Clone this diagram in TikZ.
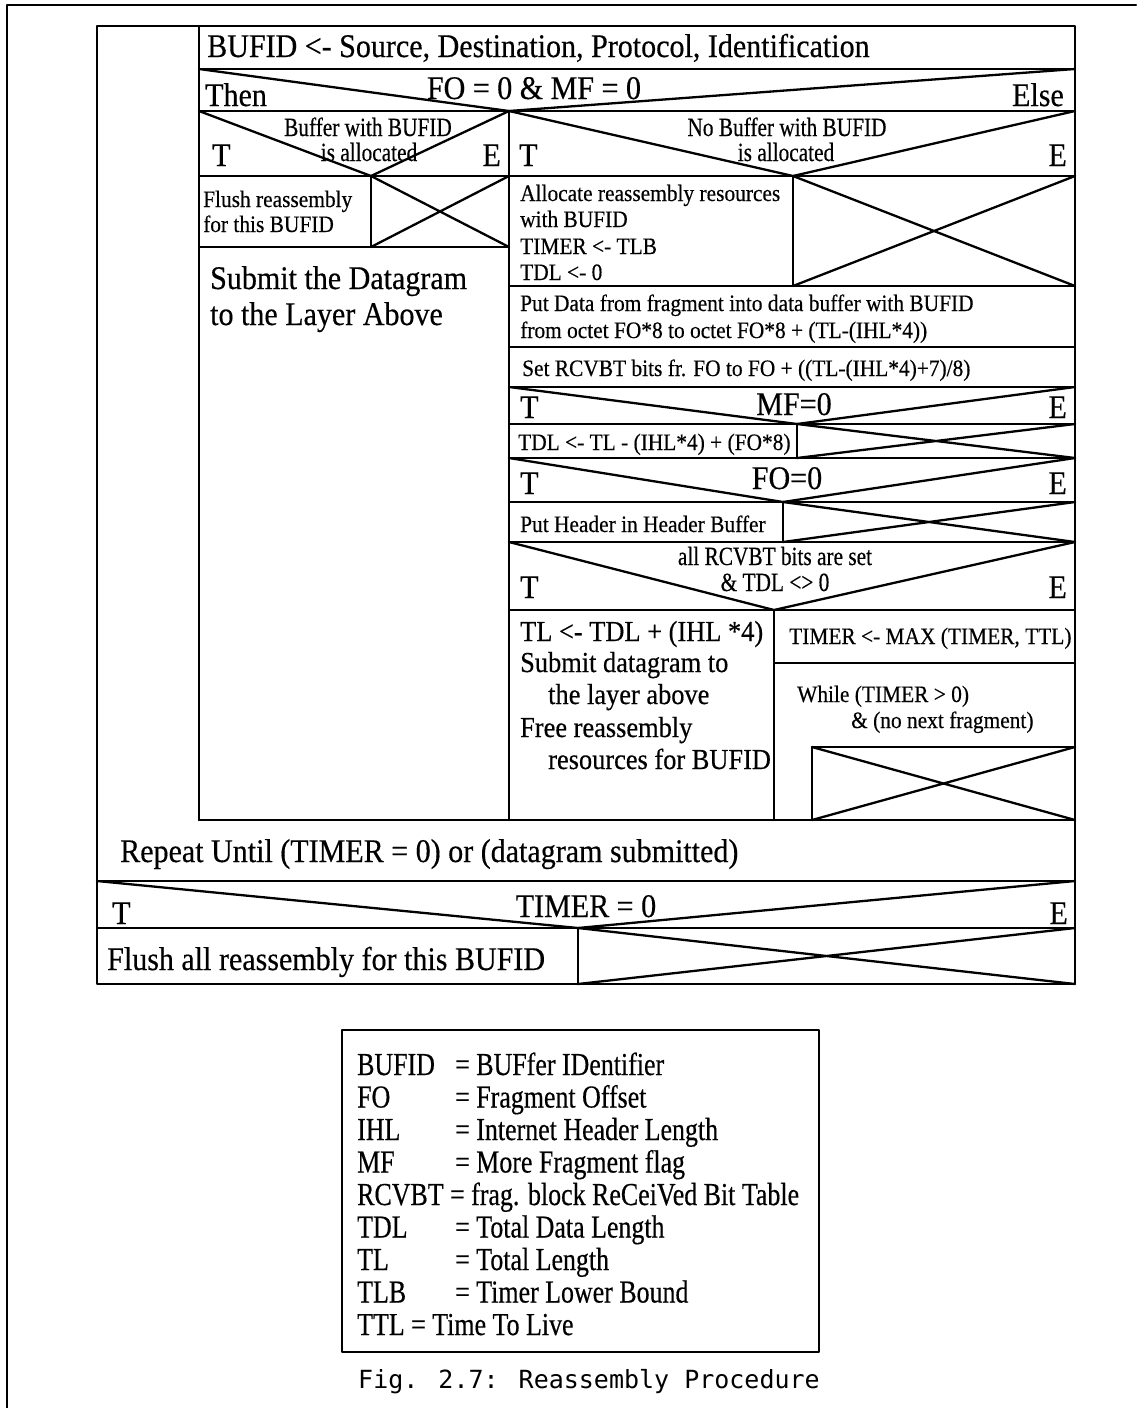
\documentclass[tikz,border=0pt]{standalone}
\usepackage{fontspec}
\setmainfont{Liberation Serif}[FakeStretch=0.91,FakeBold=0.4]
\newfontfamily\narrowfont{Liberation Serif}[FakeStretch=0.81,FakeBold=0.4]
\newfontfamily\capfont{DejaVu Sans Mono}
\newcommand\szL{\fontsize{33}{36}\selectfont}
\newcommand\szM{\fontsize{29}{32}\selectfont}
\newcommand\szS{\fontsize{23.5}{26}\selectfont}
\newcommand\szN{\narrowfont\fontsize{26.3}{29}\selectfont}
\newcommand\szG{\narrowfont\fontsize{32}{34}\selectfont}
\tikzset{
  ln/.style={line width=2.3pt, line cap=round, line join=round},
  txt/.style={inner sep=0pt, anchor=base west},
  ctxt/.style={inner sep=0pt, anchor=base},
  rtxt/.style={inner sep=0pt, anchor=base east},
}
\begin{document}
\begin{tikzpicture}[x=1pt,y=-1pt]
\useasboundingbox (0,0) rectangle (1136,1408);
% page frame
\draw[ln] (7,1408) -- (7,5) -- (1136,5);
% outer box and inner column
\draw[ln] (97,26) rectangle (1075,984);
\draw[ln] (199,26) -- (199,820);
\draw[ln] (199,69) -- (1075,69);
\draw[ln] (199,111) -- (1075,111);
\draw[ln] (199,69) -- (509,111) -- (1075,69);
\draw[ln] (509,111) -- (509,820);
% left column
\draw[ln] (199,176) -- (509,176);
\draw[ln] (199,111) -- (371,176) -- (509,111);
\draw[ln] (371,176) -- (371,247);
\draw[ln] (199,247) -- (509,247);
\draw[ln] (371,176) -- (509,247) (371,247) -- (509,176);
% right column
\draw[ln] (509,111) -- (793,176) -- (1075,111);
\draw[ln] (509,176) -- (1075,176);
\draw[ln] (793,176) -- (793,286);
\draw[ln] (793,176) -- (1075,286) (793,286) -- (1075,176);
\draw[ln] (509,286) -- (1075,286);
\draw[ln] (509,347) -- (1075,347);
\draw[ln] (509,387) -- (1075,387);
\draw[ln] (509,387) -- (797,424) -- (1075,387);
\draw[ln] (509,424) -- (1075,424);
\draw[ln] (797,424) -- (797,458);
\draw[ln] (797,424) -- (1075,458) (797,458) -- (1075,424);
\draw[ln] (509,458) -- (1075,458);
\draw[ln] (509,458) -- (783,502) -- (1075,458);
\draw[ln] (509,502) -- (1075,502);
\draw[ln] (783,502) -- (783,542);
\draw[ln] (783,502) -- (1075,542) (783,542) -- (1075,502);
\draw[ln] (509,542) -- (1075,542);
\draw[ln] (509,542) -- (774,610) -- (1075,542);
\draw[ln] (509,610) -- (1075,610);
\draw[ln] (774,610) -- (774,820);
\draw[ln] (774,663) -- (1075,663);
\draw[ln] (812,820) -- (812,747) -- (1075,747);
\draw[ln] (812,747) -- (1075,820) (812,820) -- (1075,747);
% bottom part
\draw[ln] (199,820) -- (1075,820);
\draw[ln] (97,881) -- (1075,881);
\draw[ln] (97,881) -- (578,928) -- (1075,881);
\draw[ln] (97,928) -- (1075,928);
\draw[ln] (578,928) -- (578,984);
\draw[ln] (578,928) -- (1075,984) (578,984) -- (1075,928);
% legend box
\draw[ln] (342,1030) rectangle (819,1352);

% texts
\node[txt,font=\szL] (bufid) at (207,57) {BUFID <- Source, Destination, Protocol, Identification};
\node[txt,font=\szL] (then) at (205,106) {Then};
\node[ctxt,font=\szL] (cond1) at (534,99) {FO = 0 \& MF = 0};
\node[rtxt,font=\szL] (else) at (1064,106) {Else};

\node[ctxt,font=\szN] (buf1) at (368,136) {Buffer with BUFID};
\node[ctxt,font=\szN] (buf2) at (369,161) {is allocated};
\node[txt,font=\szL] (bufT) at (212,166) {T};
\node[rtxt,font=\szL] (bufE) at (501,166) {E};

\node[txt,font=\szS] (fl1) at (203,207) {Flush reassembly};
\node[txt,font=\szS] (fl2) at (203,232) {for this BUFID};
\node[txt,font=\szL] (sub1) at (210,289) {Submit the Datagram};
\node[txt,font=\szL] (sub2) at (210,325) {to the Layer Above};

\node[ctxt,font=\szN] (nb1) at (787,136) {No Buffer with BUFID};
\node[ctxt,font=\szN] (nb2) at (786,161) {is allocated};
\node[txt,font=\szL] (nbT) at (519,166) {T};
\node[rtxt,font=\szL] (nbE) at (1067,166) {E};

\node[txt,font=\szS] (al1) at (520,201) {Allocate reassembly resources};
\node[txt,font=\szS] (al2) at (520,227) {with BUFID};
\node[txt,font=\szS] (al3) at (520,254) {TIMER <- TLB};
\node[txt,font=\szS] (al4) at (520,280) {TDL <- 0};

\node[txt,font=\szS] (pd1) at (520,311) {Put Data from fragment into data buffer with BUFID};
\node[txt,font=\szS] (pd2) at (520,338) {from octet FO*8 to octet FO*8 + (TL-(IHL*4))};
\node[txt,font=\szS] (set) at (522,376) {Set RCVBT bits fr. FO to FO + ((TL-(IHL*4)+7)/8)};

\node[txt,font=\szL] (mfT) at (520,418) {T};
\node[ctxt,font=\szL] (mf) at (794,415) {MF=0};
\node[rtxt,font=\szL] (mfE) at (1067,418) {E};
\node[txt,font=\szS] (tdl) at (518,450) {TDL <- TL - (IHL*4) + (FO*8)};

\node[txt,font=\szL] (foT) at (520,494) {T};
\node[ctxt,font=\szL] (fo) at (787,489) {FO=0};
\node[rtxt,font=\szL] (foE) at (1067,494) {E};
\node[txt,font=\szS] (ph) at (520,532) {Put Header in Header Buffer};

\node[ctxt,font=\szN] (ar1) at (775,565) {all RCVBT bits are set};
\node[ctxt,font=\szN] (ar2) at (775,591) {\& TDL <> 0};
\node[txt,font=\szL] (arT) at (520,598) {T};
\node[rtxt,font=\szL] (arE) at (1067,598) {E};

\node[txt,font=\szM] (tl1) at (520,641) {TL <- TDL + (IHL *4)};
\node[txt,font=\szM] (tl2) at (520,672) {Submit datagram to};
\node[txt,font=\szM] (tl3) at (548,704) {the layer above};
\node[txt,font=\szM] (tl4) at (520,737) {Free reassembly};
\node[txt,font=\szM] (tl5) at (548,769) {resources for BUFID};

\node[txt,font=\szS] (tmax) at (789,644) {TIMER <- MAX (TIMER, TTL)};
\node[txt,font=\szS] (wh1) at (797,702) {While (TIMER > 0)};
\node[txt,font=\szS] (wh2) at (851,728) {\& (no next fragment)};

\node[txt,font=\szL] (rep) at (120,862) {Repeat Until (TIMER = 0) or (datagram submitted)};
\node[txt,font=\szL] (tiT) at (112,924) {T};
\node[ctxt,font=\szL] (ti) at (586,917) {TIMER = 0};
\node[rtxt,font=\szL] (tiE) at (1068,924) {E};
\node[txt,font=\szL] (fla) at (107,970) {Flush all reassembly for this BUFID};

% legend
\begin{scope}[every node/.append style={font=\szG}]
\node[txt] (k1) at (357,1075) {BUFID};   \node[txt] (v1) at (455,1075) {= BUFfer IDentifier};
\node[txt] (k2) at (357,1107.5) {FO};    \node[txt] (v2) at (455,1107.5) {= Fragment Offset};
\node[txt] (k3) at (357,1140) {IHL};     \node[txt] (v3) at (455,1140) {= Internet Header Length};
\node[txt] (k4) at (357,1172.5) {MF};    \node[txt] (v4) at (455,1172.5) {= More Fragment flag};
\node[txt] (k5) at (357,1205) {RCVBT = frag. block ReCeiVed Bit Table};
\node[txt] (k6) at (357,1237.5) {TDL};   \node[txt] (v6) at (455,1237.5) {= Total Data Length};
\node[txt] (k7) at (357,1270) {TL};      \node[txt] (v7) at (455,1270) {= Total Length};
\node[txt] (k8) at (357,1302.5) {TLB};   \node[txt] (v8) at (455,1302.5) {= Timer Lower Bound};
\node[txt] (k9) at (357,1335) {TTL = Time To Live};
\end{scope}
\node[txt,font=\capfont\fontsize{25}{28}\selectfont] (cap) at (358,1388) {Fig. 2.7: Reassembly Procedure};
\end{tikzpicture}
\end{document}
